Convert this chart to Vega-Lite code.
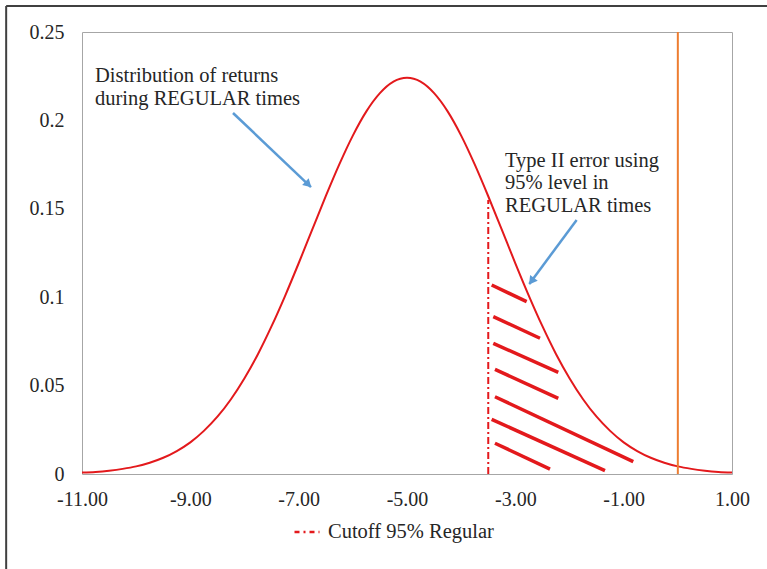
{
  "$schema": "https://vega.github.io/schema/vega-lite/v6.json",
  "width": 650,
  "height": 442,
  "autosize": "none",
  "padding": {"left": 82, "top": 32, "right": 35, "bottom": 95},
  "background": "white",
  "config": {
    "view": {"stroke": "#a6a6a6", "strokeWidth": 1},
    "font": "Liberation Serif",
    "axis": {"labelFont": "Liberation Serif", "labelFontSize": 20, "labelColor": "#262626", "ticks": false, "grid": false, "domain": false, "title": null, "labelFlush": false},
    "legend": {"orient": "none", "legendX": 211, "legendY": 486, "symbolType": "stroke", "symbolDash": [5, 4, 2, 4], "symbolStrokeWidth": 2.5, "symbolSize": 625, "labelFont": "Liberation Serif", "labelFontSize": 20.5, "labelColor": "#262626", "labelLimit": 400, "padding": 0, "labelOffset": 7}
  },
  "datasets": {
    "curve": [
      {"x": -11, "y": 0.0008}, {"x": -10.75, "y": 0.0012}, {"x": -10.5, "y": 0.0019}, {"x": -10.25, "y": 0.0029},
      {"x": -10, "y": 0.0043}, {"x": -9.75, "y": 0.0064}, {"x": -9.5, "y": 0.0092}, {"x": -9.25, "y": 0.013},
      {"x": -9, "y": 0.0179}, {"x": -8.75, "y": 0.0244}, {"x": -8.5, "y": 0.0324}, {"x": -8.25, "y": 0.0423},
      {"x": -8, "y": 0.0542}, {"x": -7.75, "y": 0.0679}, {"x": -7.5, "y": 0.0836}, {"x": -7.25, "y": 0.1008},
      {"x": -7, "y": 0.1192}, {"x": -6.75, "y": 0.1382}, {"x": -6.5, "y": 0.1571}, {"x": -6.25, "y": 0.1751},
      {"x": -6, "y": 0.1914}, {"x": -5.75, "y": 0.2051}, {"x": -5.5, "y": 0.2154}, {"x": -5.25, "y": 0.2219},
      {"x": -5, "y": 0.2241},
      {"x": -4.75, "y": 0.2219}, {"x": -4.5, "y": 0.2154}, {"x": -4.25, "y": 0.2051}, {"x": -4, "y": 0.1914},
      {"x": -3.75, "y": 0.1751}, {"x": -3.5, "y": 0.1571}, {"x": -3.25, "y": 0.1382}, {"x": -3, "y": 0.1192},
      {"x": -2.75, "y": 0.1008}, {"x": -2.5, "y": 0.0836}, {"x": -2.25, "y": 0.0679}, {"x": -2, "y": 0.0542},
      {"x": -1.75, "y": 0.0423}, {"x": -1.5, "y": 0.0324}, {"x": -1.25, "y": 0.0244}, {"x": -1, "y": 0.0179},
      {"x": -0.75, "y": 0.013}, {"x": -0.5, "y": 0.0092}, {"x": -0.25, "y": 0.0064}, {"x": 0, "y": 0.0043},
      {"x": 0.25, "y": 0.0029}, {"x": 0.5, "y": 0.0019}, {"x": 0.75, "y": 0.0012}, {"x": 1, "y": 0.0008}
    ],
    "cutoff": [
      {"x": -3.5, "y": 0, "series": "Cutoff 95% Regular"},
      {"x": -3.5, "y": 0.155, "series": "Cutoff 95% Regular"}
    ],
    "zeroline": [{"x": 0, "y": 0, "y2": 0.25}],
    "hatch": [
      {"x": -3.437, "y": 0.1069, "x2": -2.791, "y2": 0.0975},
      {"x": -3.407, "y": 0.089, "x2": -2.545, "y2": 0.0768},
      {"x": -3.407, "y": 0.0739, "x2": -2.207, "y2": 0.0575},
      {"x": -3.376, "y": 0.0592, "x2": -2.207, "y2": 0.0428},
      {"x": -3.376, "y": 0.0437, "x2": -0.823, "y2": 0.007},
      {"x": -3.437, "y": 0.0309, "x2": -1.345, "y2": 0.0019},
      {"x": -3.376, "y": 0.0174, "x2": -2.36, "y2": 0.0028}
    ],
    "arrows": [
      {"x": -8.212, "y": 0.2042, "x2": -6.773, "y2": 0.1623},
      {"x": -1.868, "y": 0.1437, "x2": -2.742, "y2": 0.1075}
    ],
    "head1": [{"x": -6.839, "y": 0.1643}],
    "head2": [{"x": -2.687, "y": 0.1097}],
    "notes": [
      {"x": -10.76, "y": 0.2217, "label": "Distribution of returns\nduring REGULAR times"},
      {"x": -3.191, "y": 0.1738, "label": "Type II error using\n95% level in\nREGULAR times"}
    ],
    "frame": [
      {"x": -12.4, "y": 0.2647, "x2": 1.9, "y2": 0.2647},
      {"x": -12.4, "y": 0.2647, "x2": -12.4, "y2": -0.07}
    ]
  },
  "layer": [
    {
      "data": {"name": "curve"},
      "mark": {"type": "line", "color": "#e3191c", "strokeWidth": 2, "interpolate": "monotone"},
      "encoding": {
        "x": {"field": "x", "type": "quantitative", "scale": {"domain": [-11, 1], "nice": false, "zero": false},
              "axis": {"values": [-11, -9, -7, -5, -3, -1, 1], "labelExpr": "replace(format(datum.value, '.2f'), '\u2212', '-')", "labelPadding": 15}},
        "y": {"field": "y", "type": "quantitative", "scale": {"domain": [0, 0.25], "nice": false},
              "axis": {"values": [0, 0.05, 0.1, 0.15, 0.2, 0.25], "format": ".2~f", "labelPadding": 18}}
      }
    },
    {
      "data": {"name": "cutoff"},
      "mark": {"type": "line", "strokeWidth": 2, "strokeDash": [7, 3, 2, 3]},
      "encoding": {
        "x": {"field": "x", "type": "quantitative"},
        "y": {"field": "y", "type": "quantitative"},
        "color": {"field": "series", "type": "nominal", "scale": {"range": ["#e3191c"]}, "legend": {"title": null}}
      }
    },
    {
      "data": {"name": "zeroline"},
      "mark": {"type": "rule", "color": "#ed7d31", "strokeWidth": 2},
      "encoding": {
        "x": {"field": "x", "type": "quantitative"},
        "y": {"field": "y", "type": "quantitative"},
        "y2": {"field": "y2"}
      }
    },
    {
      "data": {"name": "hatch"},
      "mark": {"type": "rule", "color": "#e3191c", "strokeWidth": 3.5},
      "encoding": {
        "x": {"field": "x", "type": "quantitative"},
        "y": {"field": "y", "type": "quantitative"},
        "x2": {"field": "x2"},
        "y2": {"field": "y2"}
      }
    },
    {
      "data": {"name": "arrows"},
      "mark": {"type": "rule", "color": "#5b9bd5", "strokeWidth": 2.5},
      "encoding": {
        "x": {"field": "x", "type": "quantitative"},
        "y": {"field": "y", "type": "quantitative"},
        "x2": {"field": "x2"},
        "y2": {"field": "y2"}
      }
    },
    {
      "data": {"name": "head1"},
      "mark": {"type": "point", "shape": "triangle", "filled": true, "color": "#5b9bd5", "opacity": 1, "size": 90, "angle": 134},
      "encoding": {
        "x": {"field": "x", "type": "quantitative"},
        "y": {"field": "y", "type": "quantitative"}
      }
    },
    {
      "data": {"name": "head2"},
      "mark": {"type": "point", "shape": "triangle", "filled": true, "color": "#5b9bd5", "opacity": 1, "size": 90, "angle": 216.5},
      "encoding": {
        "x": {"field": "x", "type": "quantitative"},
        "y": {"field": "y", "type": "quantitative"}
      }
    },
    {
      "data": {"name": "notes"},
      "mark": {"type": "text", "align": "left", "baseline": "alphabetic", "fontSize": 20.5, "lineHeight": 22.5, "lineBreak": "\n", "color": "#262626", "font": "Liberation Serif"},
      "encoding": {
        "x": {"field": "x", "type": "quantitative"},
        "y": {"field": "y", "type": "quantitative"},
        "text": {"field": "label"}
      }
    },
    {
      "data": {"name": "frame"},
      "mark": {"type": "rule", "color": "#404040", "strokeWidth": 2},
      "encoding": {
        "x": {"field": "x", "type": "quantitative"},
        "y": {"field": "y", "type": "quantitative"},
        "x2": {"field": "x2"},
        "y2": {"field": "y2"}
      }
    }
  ]
}
